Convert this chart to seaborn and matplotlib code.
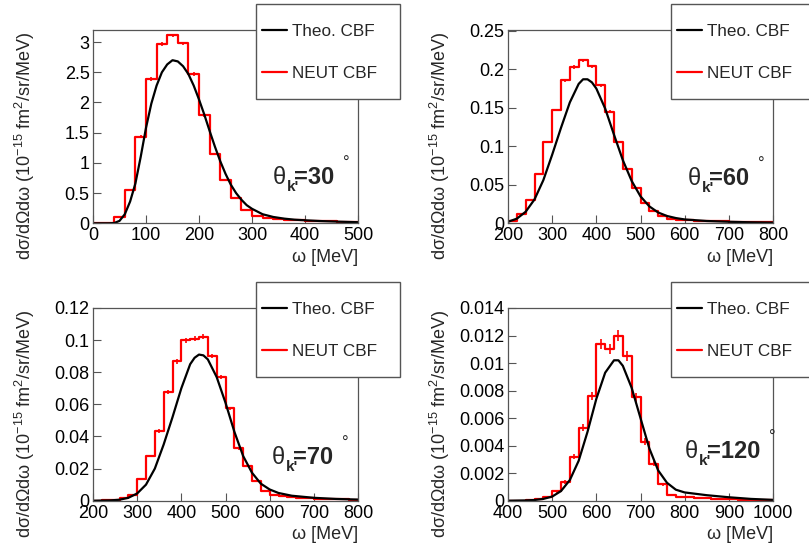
import numpy as np
import pandas as pd
import matplotlib
matplotlib.use("Agg")
import matplotlib.pyplot as plt
import matplotlib.transforms as mtransforms
import seaborn as sns
from matplotlib.ticker import MultipleLocator, FuncFormatter
from matplotlib.lines import Line2D
from matplotlib.patches import Rectangle

sns.set_style("ticks")
plt.rcParams['font.family'] = ['Liberation Sans', 'DejaVu Sans']
plt.rcParams['mathtext.fontset'] = 'custom'
plt.rcParams['mathtext.rm'] = 'Liberation Sans'
plt.rcParams['mathtext.it'] = 'Liberation Sans:italic'
plt.rcParams['mathtext.bf'] = 'Liberation Sans:bold'

# ---------------- data ----------------
angles = ["30", "60", "70", "120"]
legend_labels = ["Theo. CBF", "NEUT CBF"]
x_label = "ω [MeV]"
y_label = r"dσ/dΩdω (10$^{-15}$ fm$^{2}$/sr/MeV)"

# histogram bin ranges (lo, hi, width) in MeV
bins_30 = (0, 500, 20)
bins_60 = (200, 800, 20)
bins_70 = (200, 800, 20)
bins_120 = (400, 1000, 20)

neut_30 = [0, 0, 0.10, 0.557, 1.434, 2.39, 2.97, 3.11, 2.98, 2.47, 1.79, 1.147,
           0.71, 0.414, 0.226, 0.12, 0.085, 0.07, 0.06, 0.05, 0.042, 0.036,
           0.03, 0.025, 0.02]
neut_60 = [0.0035, 0.0125, 0.030, 0.064, 0.106, 0.147, 0.1855, 0.203, 0.2115,
           0.2037, 0.179, 0.145, 0.106, 0.0705, 0.0454, 0.0268, 0.0156, 0.0095,
           0.006, 0.0045, 0.004, 0.0035, 0.003, 0.0027, 0.0024, 0.002, 0.0017,
           0.0015, 0.0013, 0.0012]
neut_70 = [0.0001, 0.0003, 0.0006, 0.0015, 0.0033, 0.0135, 0.0278, 0.0434,
           0.0679, 0.0868, 0.0999, 0.101, 0.102, 0.090, 0.077, 0.0575, 0.0326,
           0.0214, 0.012, 0.006, 0.0037, 0.0029, 0.0022, 0.0018, 0.0015,
           0.0013, 0.0012, 0.001, 0.0008, 0.0006]
neut_120 = [0, 0, 0.00003, 0.0001, 0.0003, 0.00068, 0.00135, 0.0032, 0.0053,
            0.0076, 0.0114, 0.0110, 0.0120, 0.0105, 0.0075, 0.0043, 0.0027,
            0.0012, 0.00045, 0.0003, 0.00025, 0.0002, 0.00018, 0.00015,
            0.00012, 0.0001, 0.00008, 0.00006, 0.00005, 0.00004]

# statistical error scale per panel (err = k * sqrt(value))
err_k = [0.017, 0.0045, 0.0047, 0.0034]

theo_w_30 = [0, 30, 40, 50, 60, 70, 80, 90, 100, 110, 120, 130, 140, 150, 160,
             170, 180, 190, 200, 210, 220, 230, 240, 250, 260, 270, 280, 290,
             300, 320, 340, 360, 380, 400, 430, 460, 500]
theo_v_30 = [0, 0, 0.005, 0.04, 0.15, 0.36, 0.66, 1.10, 1.58, 1.98, 2.28, 2.50,
             2.63, 2.70, 2.68, 2.60, 2.47, 2.28, 2.05, 1.80, 1.53, 1.27, 1.03,
             0.82, 0.64, 0.50, 0.39, 0.30, 0.24, 0.15, 0.105, 0.078, 0.06,
             0.05, 0.037, 0.028, 0.018]
theo_w_60 = [200, 220, 240, 260, 280, 300, 320, 340, 360, 370, 380, 390, 400,
             420, 440, 460, 480, 500, 520, 540, 560, 580, 600, 650, 700, 750, 800]
theo_v_60 = [0.002, 0.006, 0.015, 0.031, 0.056, 0.089, 0.124, 0.157, 0.181,
             0.187, 0.187, 0.183, 0.175, 0.149, 0.115, 0.082, 0.055, 0.035,
             0.022, 0.014, 0.0095, 0.0068, 0.005, 0.003, 0.002, 0.0013, 0.0009]
theo_w_70 = [200, 240, 260, 280, 300, 320, 340, 360, 380, 400, 420, 430, 440,
             450, 460, 480, 500, 520, 540, 560, 580, 600, 620, 650, 700, 750, 800]
theo_v_70 = [0, 0.0002, 0.0006, 0.0018, 0.0045, 0.010, 0.020, 0.035, 0.052,
             0.070, 0.085, 0.089, 0.091, 0.0905, 0.088, 0.077, 0.061, 0.043,
             0.0278, 0.0174, 0.0106, 0.007, 0.0048, 0.0031, 0.0018, 0.0011,
             0.0007]
theo_w_120 = [400, 440, 460, 480, 500, 520, 540, 560, 580, 600, 620, 640, 650,
              660, 680, 700, 720, 740, 760, 780, 800, 850, 900, 950, 1000]
theo_v_120 = [0, 0.00002, 0.00005, 0.00013, 0.0003, 0.0007, 0.0015, 0.0029,
              0.005, 0.0074, 0.0093, 0.0102, 0.0102, 0.0098, 0.0082, 0.006,
              0.0038, 0.0022, 0.0013, 0.0008, 0.0006, 0.0004, 0.00025,
              0.00013, 0.00006]

panels = [
    (bins_30, neut_30, theo_w_30, theo_v_30),
    (bins_60, neut_60, theo_w_60, theo_v_60),
    (bins_70, neut_70, theo_w_70, theo_v_70),
    (bins_120, neut_120, theo_w_120, theo_v_120),
]

# ---------------- layout / style ----------------
W, H = 809, 550
fig = plt.figure(figsize=(W / 100, H / 100), dpi=100)

# axes boxes in pixels: (left, top, right, bottom)
boxes = [(93, 30, 358, 223.3), (508, 30, 773, 223.3),
         (93, 308, 358, 500.7), (508, 308, 773, 500.7)]
ylims = [3.2, 0.251, 0.12, 0.014]
ymajor = [0.5, 0.05, 0.02, 0.002]
theta_x = [0.678, 0.679, 0.675, 0.668]
theta_y = [0.203, 0.198, 0.19, 0.22]

spine_col = "#555555"
fmt = FuncFormatter(lambda v, p: "%g" % round(v, 6))


def off(ax, dx, dy):
    return mtransforms.offset_copy(ax.transAxes, fig=fig, x=dx, y=dy,
                                   units="dots")


for i, (binr, neut, tw, tv) in enumerate(panels):
    l, t, r, b = boxes[i]
    ax = fig.add_axes([l / W, 1 - b / H, (r - l) / W, (b - t) / H])
    lo, hi, wd = binr
    edges = np.arange(lo, hi + wd / 2, wd)
    centers = edges[:-1] + wd / 2
    vals = np.asarray(neut, dtype=float)
    hist_df = pd.DataFrame({"omega": centers, "xsec": vals})
    theo_df = pd.DataFrame({"omega": tw, "xsec": tv})

    sns.histplot(data=hist_df, x="omega", weights="xsec", bins=edges.tolist(),
                 element="step", fill=False, color="red", linewidth=1.6, ax=ax)
    ax.errorbar(centers, vals, yerr=err_k[i] * np.sqrt(vals), fmt="none",
                ecolor="red", elinewidth=1.2, capsize=0)
    sns.lineplot(data=theo_df, x="omega", y="xsec", color="black",
                 linewidth=1.6, ax=ax)

    ax.set_xlim(lo, hi)
    ax.set_ylim(0, ylims[i])
    ax.xaxis.set_major_locator(MultipleLocator(100))
    ax.yaxis.set_major_locator(MultipleLocator(ymajor[i]))
    ax.xaxis.set_major_formatter(fmt)
    ax.yaxis.set_major_formatter(fmt)
    ax.tick_params(direction="in", length=6, width=0.8, colors=spine_col,
                   labelcolor="black", labelsize=13)
    ax.tick_params(axis="y", pad=2.5)
    ax.tick_params(axis="x", pad=3)
    for s in ax.spines.values():
        s.set_visible(True)
        s.set_color(spine_col)
        s.set_linewidth(0.9)

    ax.set_xlabel(x_label, fontsize=13, loc="right")
    ax.xaxis.set_label_coords(1.0, -0.133)
    ax.set_ylabel(y_label, fontsize=13, loc="top")
    ax.yaxis.set_label_coords(-0.21, 0.99)

    # angle label: θ_k' = NN°
    tx, ty = theta_x[i], theta_y[i]
    ax.text(tx, ty, "θ", transform=off(ax, 0, 0), fontsize=17,
            ha="left", va="baseline")
    ax.text(tx, ty, "k'", transform=off(ax, 14, -6.5), fontsize=11,
            fontweight="bold", ha="left", va="baseline")
    ax.text(tx, ty, "=" + angles[i], transform=off(ax, 21.5, 0), fontsize=17,
            fontweight="bold", ha="left", va="baseline")
    deg_dx = 21.5 + 13.8 + 13.1 * len(angles[i]) + 9
    ax.text(tx, ty, "°", transform=off(ax, deg_dx, 16), fontsize=12,
            ha="left", va="baseline")

    # legend box
    pw, ph = r - l, b - t
    rx = (256 - 93) / pw
    top_px = 4 if i < 2 else 281.7
    ry = (b - (top_px + 95)) / ph
    rect = Rectangle((rx, ry), 144 / pw, 95 / ph, transform=ax.transAxes,
                     facecolor="white", edgecolor=spine_col, linewidth=1.0,
                     clip_on=False, zorder=4.9)
    ax.add_patch(rect)
    handles = [Line2D([], [], color="black", lw=1.6),
               Line2D([], [], color="red", lw=1.6)]
    cy = (b - (top_px + 48.5)) / ph
    leg = ax.legend(handles, legend_labels, loc="center left",
                    bbox_to_anchor=((262 - 93) / pw, cy), frameon=False,
                    borderpad=0, borderaxespad=0, fontsize=12.3,
                    handlelength=1.46, handletextpad=0.32, labelspacing=1.6)
    leg.set_zorder(6)

fig.savefig("out.png", dpi=100)
